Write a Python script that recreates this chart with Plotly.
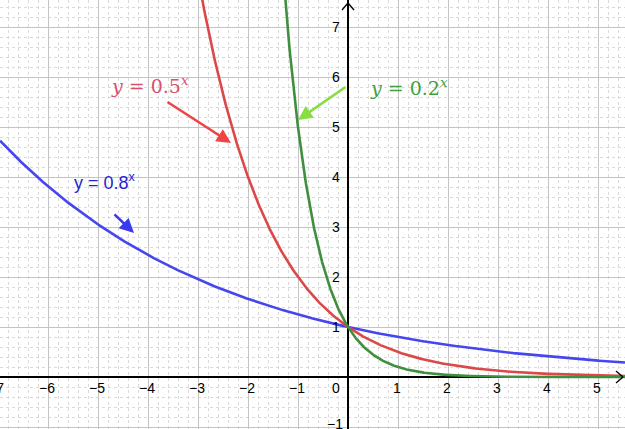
import numpy as np
import plotly.graph_objects as go

# --- data ---
bases = [0.8, 0.5, 0.2]
curve_colors = ["#4646ee", "#dc4848", "#3f8f3f"]
x_ticks = [-7, -6, -5, -4, -3, -2, -1, 1, 2, 3, 4, 5]
y_ticks = [1, 2, 3, 4, 5, 6, 7]
x_min, x_max = -6.96, 5.54
y_min, y_max = -1.04, 7.54

x = np.linspace(x_min, x_max, 1200)

fig = go.Figure()
for b, c in zip(bases, curve_colors):
    y = b ** x
    y = np.where(y > y_max + 1, np.nan, y)
    fig.add_trace(go.Scatter(x=x, y=y, mode="lines",
                             line=dict(color=c, width=2.6), hoverinfo="skip"))

def lab(t):
    return ("\u2212" + str(abs(t))) if t < 0 else str(t)

tick_font = dict(size=14, color="black", family="Liberation Sans")
ann = []
for t in x_ticks:
    xp = t - 0.03
    if xp < x_min:
        # label partly off the left edge: anchor its right side just inside
        ann.append(dict(x=0.009, xref="paper", xanchor="right", y=-0.22,
                        text=lab(t), showarrow=False, font=tick_font))
    else:
        ann.append(dict(x=xp, y=-0.22, text=lab(t), showarrow=False, font=tick_font))
for t in y_ticks:
    ann.append(dict(x=-0.24, y=t, text=lab(t), showarrow=False, font=tick_font))
ann.append(dict(x=-0.24, y=-0.22, text="0", showarrow=False, font=tick_font))
ann.append(dict(x=-0.26, y=-0.94, text="\u22121", showarrow=False, font=tick_font))

# function labels
ann.append(dict(x=-3.96, y=5.84, text="<i>y</i> = 0.5<sup><i>x</i></sup>", showarrow=False,
                font=dict(size=19, color="#d9506e", family="DejaVu Serif")))
ann.append(dict(x=1.22, y=5.80, text="<i>y</i> = 0.2<sup><i>x</i></sup>", showarrow=False,
                font=dict(size=19, color="#3fa03f", family="DejaVu Serif")))
ann.append(dict(x=-4.86, y=3.92, text="y = 0.8<sup>x</sup>", showarrow=False,
                font=dict(size=18, color="#2525d0", family="Liberation Sans")))

# pointer arrows
for (hx, hy, tx, ty, col) in [(-2.34, 4.68, -3.64, 5.52, "#ee4444"),
                               (-1.0, 5.14, -0.02, 5.82, "#88dd44"),
                               (-4.28, 2.88, -4.70, 3.28, "#3a3aee")]:
    ann.append(dict(x=hx, y=hy, ax=tx, ay=ty, xref="x", yref="y", axref="x", ayref="y",
                    text="", showarrow=True, arrowhead=2, arrowsize=1.1,
                    arrowwidth=2.6, arrowcolor=col))

shapes = [
    # axis arrow heads
    dict(type="line", x0=x_max - 0.18, y0=0.12, x1=x_max - 0.04, y1=0, line=dict(color="black", width=1.3)),
    dict(type="line", x0=x_max - 0.18, y0=-0.12, x1=x_max - 0.04, y1=0, line=dict(color="black", width=1.3)),
    dict(type="line", x0=-0.12, y0=y_max - 0.2, x1=0, y1=y_max - 0.06, line=dict(color="black", width=1.3)),
    dict(type="line", x0=0.12, y0=y_max - 0.2, x1=0, y1=y_max - 0.06, line=dict(color="black", width=1.3)),
]

axis_common = dict(showticklabels=False, ticks="", dtick=1, tick0=0,
                   showgrid=True, gridcolor="#c4c4c4", gridwidth=1,
                   zeroline=True, zerolinecolor="black", zerolinewidth=1.5,
                   showline=False, fixedrange=True,
                   minor=dict(dtick=0.2, showgrid=True, gridcolor="#dadada",
                              griddash="dot", gridwidth=1))

fig.update_layout(
    width=625, height=429,
    margin=dict(l=0, r=0, t=0, b=0),
    plot_bgcolor="white", paper_bgcolor="white",
    showlegend=False,
    xaxis=dict(range=[x_min, x_max], **axis_common),
    yaxis=dict(range=[y_min, y_max], **axis_common),
    annotations=ann, shapes=shapes,
)
fig.write_html("out.html", config={"displayModeBar": False},
               post_script="document.body.style.margin='0';document.body.style.overflow='hidden';")
